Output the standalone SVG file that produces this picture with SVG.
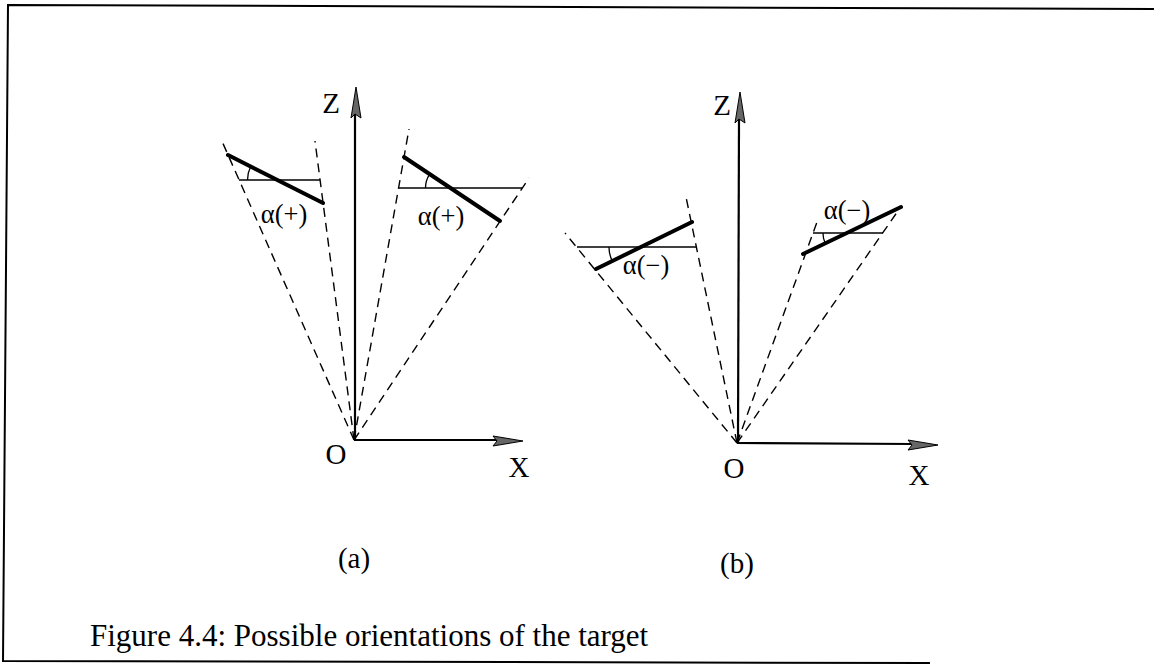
<svg xmlns="http://www.w3.org/2000/svg" width="1154" height="665" viewBox="0 0 1154 665">
<style>
.t{font-family:"Liberation Serif","Times New Roman",serif;fill:#000}
.dash{stroke:#000;stroke-width:1.4;stroke-dasharray:9 6;fill:none}
.thin{stroke:#000;stroke-width:1.3;fill:none}
.thick{stroke:#000;stroke-width:4;fill:none;stroke-linecap:round}
.axis{stroke:#000;stroke-width:2.2;fill:none}
.head{fill:#666;stroke:#000;stroke-width:1}
</style>
<rect width="1154" height="665" fill="#fff"/>
<path d="M1154,9 L8,5 L3,661 L930,663" fill="none" stroke="#000" stroke-width="2"/>

<g id="panel-a">
  <g id="connectors-a">
    <line class="axis" x1="355" y1="440" x2="355" y2="112"/>
    <polygon class="head" points="356,87 361,118 355,114 351,118"/>
    <line class="axis" x1="354" y1="440" x2="498" y2="440"/>
    <polygon class="head" points="523,441 493,436 497,441 493,446"/>
    <line class="dash" x1="354" y1="440" x2="221" y2="139"/>
    <line class="dash" x1="354" y1="440" x2="315" y2="141"/>
    <line class="dash" x1="354" y1="440" x2="409" y2="129"/>
    <line class="dash" x1="354" y1="440" x2="529" y2="178"/>
    <line class="thin" x1="239" y1="180" x2="320" y2="180"/>
    <line class="thin" x1="399" y1="188" x2="522" y2="188"/>
    <line class="thick" x1="228" y1="155" x2="323" y2="203"/>
    <line class="thick" x1="404" y1="157" x2="500" y2="221"/>
    <path class="thin" d="M247.5,180 A30,30 0 0 1 250.7,166.5"/>
    <path class="thin" d="M425.5,188 A25,25 0 0 1 429.7,174.1"/>
  </g>
  <text class="t" x="331" y="113" font-size="29" text-anchor="middle">Z</text>
  <text class="t" x="336" y="464" font-size="29" text-anchor="middle">O</text>
  <text class="t" x="519" y="477" font-size="29" text-anchor="middle">X</text>
  <text class="t" x="284" y="223" font-size="26.5" text-anchor="middle">α(+)</text>
  <text class="t" x="441" y="225" font-size="26.5" text-anchor="middle">α(+)</text>
  <text class="t" x="354" y="568" font-size="29" text-anchor="middle">(a)</text>
</g>

<g id="panel-b">
  <g id="connectors-b">
    <line class="axis" x1="738" y1="443" x2="739" y2="118"/>
    <polygon class="head" points="740,92 745,123 739,119 735,123"/>
    <line class="axis" x1="737" y1="443" x2="913" y2="444"/>
    <polygon class="head" points="938,445 908,440 912,445 908,450"/>
    <line class="dash" x1="737" y1="443" x2="565" y2="233"/>
    <line class="dash" x1="737" y1="443" x2="686" y2="197"/>
    <line class="dash" x1="737" y1="443" x2="817" y2="222"/>
    <line class="dash" x1="737" y1="443" x2="900" y2="208"/>
    <line class="thin" x1="577" y1="247" x2="696" y2="247"/>
    <line class="thin" x1="813" y1="233" x2="883" y2="233"/>
    <line class="thick" x1="596" y1="269" x2="692" y2="222"/>
    <line class="thick" x1="803" y1="254" x2="901" y2="207"/>
    <path class="thin" d="M609,247 A32,32 0 0 0 612.3,261.1"/>
    <path class="thin" d="M823,233 A24,24 0 0 0 825.2,243.4"/>
  </g>
  <text class="t" x="722" y="115" font-size="29" text-anchor="middle">Z</text>
  <text class="t" x="734" y="478" font-size="29" text-anchor="middle">O</text>
  <text class="t" x="919" y="485" font-size="29" text-anchor="middle">X</text>
  <text class="t" x="646" y="274" font-size="26.5" text-anchor="middle">α(−)</text>
  <text class="t" x="847" y="219" font-size="26.5" text-anchor="middle">α(−)</text>
  <text class="t" x="737" y="573" font-size="29" text-anchor="middle">(b)</text>
</g>

<text id="caption" class="t" x="90" y="646" font-size="31">Figure 4.4: Possible orientations of the target</text>
</svg>
